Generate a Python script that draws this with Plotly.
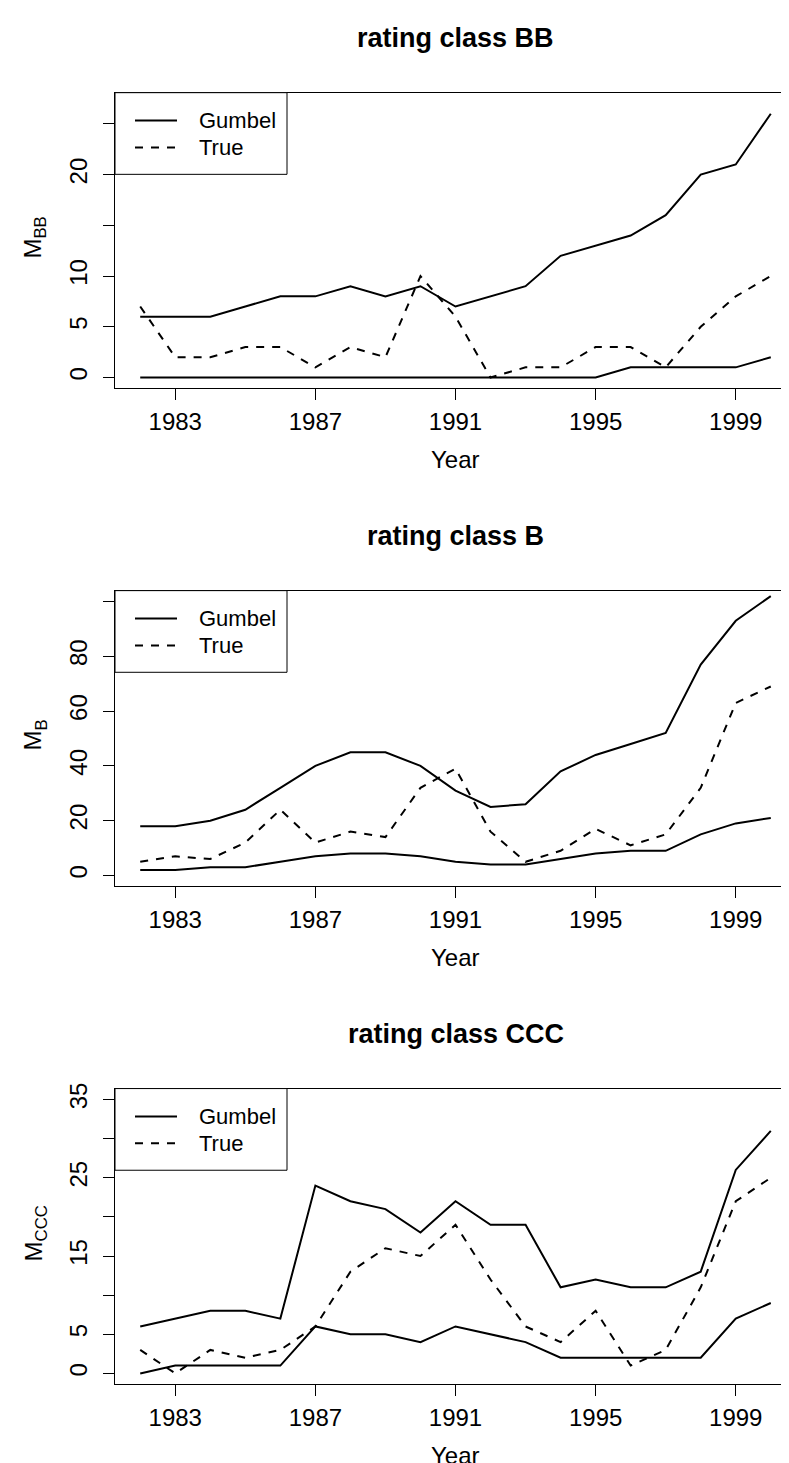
import plotly.graph_objects as go

# ---------------- data ----------------
years = list(range(1982, 2001))

bb_gumbel_upper = [6, 6, 6, 7, 8, 8, 9, 8, 9, 7, 8, 9, 12, 13, 14, 16, 20, 21, 26]
bb_gumbel_lower = [0, 0, 0, 0, 0, 0, 0, 0, 0, 0, 0, 0, 0, 0, 1, 1, 1, 1, 2]
bb_true = [7, 2, 2, 3, 3, 1, 3, 2, 10, 6, 0, 1, 1, 3, 3, 1, 5, 8, 10]

b_gumbel_upper = [18, 18, 20, 24, 32, 40, 45, 45, 40, 31, 25, 26, 38, 44, 48, 52, 77, 93, 102]
b_gumbel_lower = [2, 2, 3, 3, 5, 7, 8, 8, 7, 5, 4, 4, 6, 8, 9, 9, 15, 19, 21]
b_true = [5, 7, 6, 12, 24, 12, 16, 14, 32, 39, 16, 5, 9, 17, 11, 15, 32, 63, 69]

ccc_gumbel_upper = [6, 7, 8, 8, 7, 24, 22, 21, 18, 22, 19, 19, 11, 12, 11, 11, 13, 26, 31]
ccc_gumbel_lower = [0, 1, 1, 1, 1, 6, 5, 5, 4, 6, 5, 4, 2, 2, 2, 2, 2, 7, 9]
ccc_true = [3, 0, 3, 2, 3, 6, 13, 16, 15, 19, 12, 6, 4, 8, 1, 3, 11, 22, 25]

x_tickvals = [1983, 1987, 1991, 1995, 1999]
x_ticktext = ["1983", "1987", "1991", "1995", "1999"]

# labelled ticks and unlabelled tick marks on each y axis
bb_tickvals = [0, 5, 10, 20]
bb_ticktext = ["0", "5", "10", "20"]
bb_unlabelled = [15, 25]
b_tickvals = [0, 20, 40, 60, 80]
b_ticktext = ["0", "20", "40", "60", "80"]
b_unlabelled = [100]
ccc_tickvals = [0, 5, 15, 25, 35]
ccc_ticktext = ["0", "5", "15", "25", "35"]
ccc_unlabelled = [10, 20, 30]

titles = ["rating class BB", "rating class B", "rating class CCC"]
ylabels = ["M<sub>BB</sub>", "M<sub>B</sub>", "M<sub>CCC</sub>"]
legend_labels = ["Gumbel", "True"]

# ---------------- layout geometry ----------------
W, H = 789, 1463
FONT = "Liberation Sans, Arial, Helvetica, sans-serif"
BOX_L, BOX_R = 107, 788
BOX_TOPS = [79, 579, 1079]
BOX_H = 297
XRANGE = [1981.28, 2000.72]
YRANGES = [[-1.08, 28.08], [-4, 104], [-1.4, 36.4]]


def px(x):
    return x / W


def py(y):
    return 1 - y / H


panels = [
    (bb_gumbel_upper, bb_gumbel_lower, bb_true, bb_tickvals, bb_ticktext, bb_unlabelled),
    (b_gumbel_upper, b_gumbel_lower, b_true, b_tickvals, b_ticktext, b_unlabelled),
    (ccc_gumbel_upper, ccc_gumbel_lower, ccc_true, ccc_tickvals, ccc_ticktext, ccc_unlabelled),
]

fig = go.Figure()
annotations = []
shapes = []
line_solid = dict(color="black", width=2)
line_dash = dict(color="black", width=2, dash="8px,8px")

for i, (up, lo, tr, tv, tt, tu) in enumerate(panels):
    n = "" if i == 0 else str(i + 1)
    xa, ya = "x" + n, "y" + n
    top = BOX_TOPS[i]
    bot = top + BOX_H
    for yy, ln in ((up, line_solid), (lo, line_solid), (tr, line_dash)):
        fig.add_trace(go.Scatter(x=years, y=yy, mode="lines", line=ln,
                                 xaxis=xa, yaxis=ya, showlegend=False,
                                 hoverinfo="x+y"))
    common = dict(showline=True, mirror=True, linecolor="black", linewidth=1,
                  ticks="outside", ticklen=11, tickwidth=1, tickcolor="black",
                  showgrid=False, zeroline=False,
                  tickfont=dict(family=FONT, size=24, color="black"))
    fig.update_layout(**{
        "xaxis" + n: dict(domain=[px(BOX_L), px(BOX_R)], range=XRANGE,
                          tickmode="array", tickvals=x_tickvals, ticktext=x_ticktext,
                          anchor=ya, ticklabelstandoff=1, **common),
        "yaxis" + n: dict(domain=[py(bot), py(top)], range=YRANGES[i],
                          tickmode="array", tickvals=tv, ticktext=tt,
                          minor=dict(tickmode="array", tickvals=tu, ticks="outside",
                                     ticklen=11, tickwidth=1, tickcolor="black",
                                     showgrid=False),
                          tickangle=-90, anchor=xa, ticklabelstandoff=6, **common),
    })
    # title
    annotations.append(dict(text="<b>" + titles[i] + "</b>", x=px((BOX_L + BOX_R) / 2),
                            y=py(top - 55), xref="paper", yref="paper",
                            xanchor="center", yanchor="middle", showarrow=False,
                            font=dict(family=FONT, size=27, color="black")))
    # x label
    annotations.append(dict(text="Year", x=px((BOX_L + BOX_R) / 2), y=py(bot + 71),
                            xref="paper", yref="paper", xanchor="center",
                            yanchor="middle", showarrow=False,
                            font=dict(family=FONT, size=24, color="black")))
    # y label
    annotations.append(dict(text=ylabels[i], x=px(27), y=py(top + BOX_H / 2 - 3),
                            xref="paper", yref="paper", xanchor="center",
                            yanchor="middle", textangle=-90, showarrow=False,
                            font=dict(family=FONT, size=24, color="black")))
    # legend box
    shapes.append(dict(type="rect", xref="paper", yref="paper",
                       x0=px(BOX_L), x1=px(279), y0=py(top + 82), y1=py(top),
                       line=dict(color="black", width=1), fillcolor="white",
                       layer="above"))
    for k, (lab, ln) in enumerate(zip(legend_labels, (line_solid, line_dash))):
        yrow = top + 28 + 27 * k
        shapes.append(dict(type="line", xref="paper", yref="paper",
                           x0=px(127), x1=px(169), y0=py(yrow), y1=py(yrow),
                           line=ln, layer="above"))
        annotations.append(dict(text=lab, x=px(189), y=py(yrow), xref="paper",
                                yref="paper", xanchor="left", yanchor="middle",
                                showarrow=False,
                                font=dict(family=FONT, size=22, color="black")))

fig.update_layout(width=W, height=H, autosize=False,
                  margin=dict(l=0, r=0, t=0, b=0),
                  paper_bgcolor="white", plot_bgcolor="white",
                  annotations=annotations, shapes=shapes,
                  font=dict(family=FONT, color="black"))

fig.write_html("out.html")
